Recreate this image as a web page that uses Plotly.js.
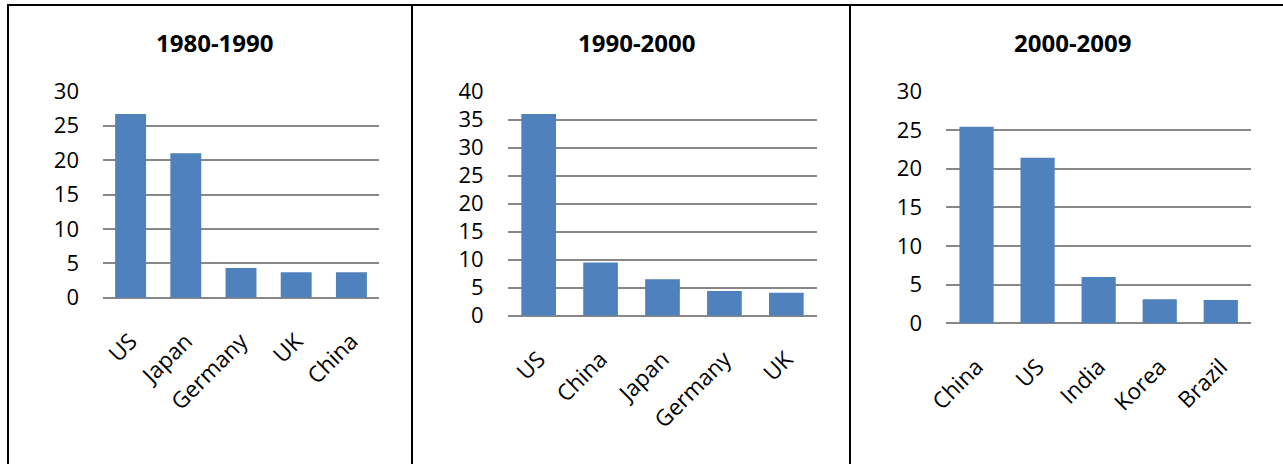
<!DOCTYPE html>
<html>
<head>
<meta charset="utf-8">
<script src="https://cdn.plot.ly/plotly-3.0.1.min.js"></script>
<style>
  html, body { margin: 0; padding: 0; background: #fff; }
  #chart { width: 1283px; height: 464px; }
</style>
</head>
<body>
<div id="chart"></div>
<script>
// Top producers per decade (share, %)
const titles = ['1980-1990', '1990-2000', '2000-2009'];

const countries1980s = ['US', 'Japan', 'Germany', 'UK', 'China'];
const values1980s = [26.7, 21.0, 4.3, 3.7, 3.7];

const countries1990s = ['US', 'China', 'Japan', 'Germany', 'UK'];
const values1990s = [36.0, 9.5, 6.5, 4.4, 4.1];

const countries2000s = ['China', 'US', 'India', 'Korea', 'Brazil'];
const values2000s = [25.4, 21.4, 6.0, 3.1, 3.0];

const yRanges = [[0, 30], [0, 40], [0, 30]];
const yTicks = [
  [0, 5, 10, 15, 20, 25, 30],
  [0, 5, 10, 15, 20, 25, 30, 35, 40],
  [0, 5, 10, 15, 20, 25, 30]
];

const W = 1283, H = 464;
const px = v => v / W;
const py = v => (H - v) / H;

const FONT = 'Open Sans, Liberation Sans, sans-serif';
const BAR = '#4F81BD';
const GRID = '#878787';

// plot area of each panel, in pixels: [left, right, bottom, top]
const boxes = [
  [103, 379, 297.7, 91.3],
  [507.7, 817.3, 315.7, 91.7],
  [946, 1251.3, 323.3, 91.3]
];

const series = [
  [countries1980s, values1980s],
  [countries1990s, values1990s],
  [countries2000s, values2000s]
];

const data = series.map((s, i) => ({
  type: 'bar',
  x: s[0],
  y: s[1],
  xaxis: i === 0 ? 'x' : 'x' + (i + 1),
  yaxis: i === 0 ? 'y' : 'y' + (i + 1),
  marker: { color: BAR, line: { width: 0 } },
  hoverinfo: 'x+y',
  showlegend: false
}));

const layout = {
  width: W,
  height: H,
  margin: { l: 0, r: 0, t: 0, b: 0 },
  paper_bgcolor: '#fff',
  plot_bgcolor: 'rgba(0,0,0,0)',
  bargap: 0.44,
  font: { family: FONT, size: 22, color: '#000' },
  annotations: [],
  shapes: []
};

boxes.forEach((b, i) => {
  const sx = i === 0 ? '' : String(i + 1);
  layout['xaxis' + sx] = {
    domain: [px(b[0]), px(b[1])],
    anchor: 'y' + sx,
    type: 'category',
    showgrid: false,
    showline: false,
    zeroline: false,
    ticks: '',
    tickangle: -45,
    ticklabelstandoff: 25,
    tickfont: { family: FONT, size: 22.5, color: '#000' },
    fixedrange: true
  };
  layout['yaxis' + sx] = {
    domain: [py(b[2]), py(b[3])],
    anchor: 'x' + sx,
    range: yRanges[i],
    tickmode: 'array',
    tickvals: yTicks[i],
    ticktext: yTicks[i].map(String),
    showgrid: true,
    gridcolor: GRID,
    gridwidth: 2,
    zeroline: true,
    zerolinecolor: GRID,
    zerolinewidth: 2,
    showline: false,
    ticks: '',
    ticklabelstandoff: 23,
    tickfont: { family: FONT, size: 22, color: '#000' },
    layer: 'below traces',
    fixedrange: true
  };
});

// panel titles
const titleCenters = [215, 636.5, 1072.5];
titles.forEach((t, i) => {
  layout.annotations.push({
    text: '<b>' + t + '</b>',
    xref: 'paper', yref: 'paper',
    x: px(titleCenters[i]), y: py(43),
    xanchor: 'center', yanchor: 'middle',
    showarrow: false,
    font: { family: FONT, size: 24, color: '#000' }
  });
});

// panel frames
const frame = { type: 'line', xref: 'paper', yref: 'paper', line: { color: '#000', width: 2 } };
layout.shapes.push(Object.assign({}, frame, { x0: px(7), x1: 1, y0: py(5), y1: py(5) }));
[8, 412, 850].forEach(x => {
  layout.shapes.push(Object.assign({}, frame, { x0: px(x), x1: px(x), y0: py(5), y1: 0 }));
});

Plotly.newPlot('chart', data, layout, { displayModeBar: false, staticPlot: true });
</script>
</body>
</html>
